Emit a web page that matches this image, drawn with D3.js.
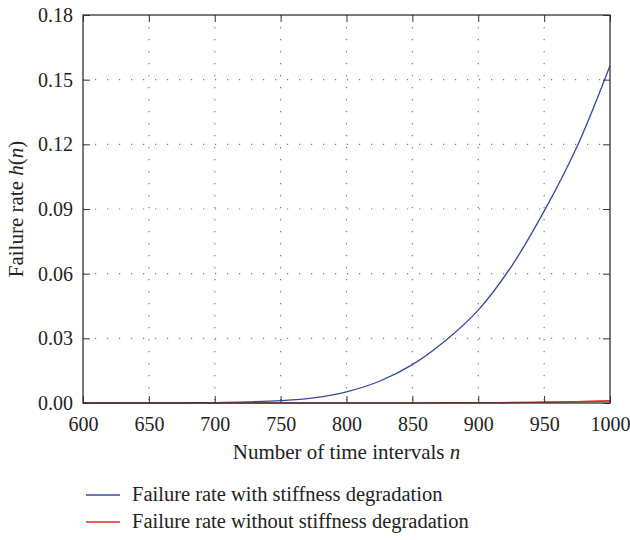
<!DOCTYPE html>
<meta charset="utf-8">
<head>
<style>
  body { margin: 0; background: #fff; }
  .grid line { stroke: #777; stroke-width: 1.2px; stroke-dasharray: 1.2, 10.8; }
  .axis path, .axis line { stroke: #333; }
</style>
</head>
<body>
<script src="https://d3js.org/d3.v7.min.js"></script>
<script>
// data
var nValues = [600, 625, 650, 675, 700, 725, 750, 775, 800, 825, 850, 875, 900, 925, 950, 975, 1000];
var withDegradation = [0, 0.00001, 0.00003, 0.0001, 0.0002, 0.0005, 0.0011, 0.0024, 0.0052, 0.0101, 0.0178, 0.0289, 0.0431, 0.0632, 0.0890, 0.1190, 0.1565];
var withoutDegradation = [0, 0, 0, 0, 0, 0, 0, 0, 0, 0, 0.00002, 0.00005, 0.0001, 0.0002, 0.0004, 0.0006, 0.001];
var xTicks = [600, 650, 700, 750, 800, 850, 900, 950, 1000];
var yTicks = [0, 0.03, 0.06, 0.09, 0.12, 0.15, 0.18];
var seriesNames = ["Failure rate with stiffness degradation", "Failure rate without stiffness degradation"];
var seriesColors = ["#3547a6", "#e5262a"];

var serif = "'Liberation Serif', 'DejaVu Serif', serif";

var margin = {top: 15, right: 20, bottom: 137, left: 83},
    width = 610 - margin.left,
    height = 403 - margin.top;

var svg = d3.select("body").append("svg")
    .attr("width", 630)
    .attr("height", 540)
    .style("font-family", serif);

var g = svg.append("g")
    .attr("transform", "translate(" + margin.left + "," + margin.top + ")");

var x = d3.scaleLinear().domain([600, 1000]).range([0, width]);
var y = d3.scaleLinear().domain([0, 0.18]).range([height, 0]);

// dotted grid
g.append("g").attr("class", "grid")
    .selectAll("line").data(xTicks.slice(1, -1)).enter().append("line")
    .attr("x1", function(d) { return x(d); })
    .attr("x2", function(d) { return x(d); })
    .attr("y1", 0).attr("y2", height);
g.append("g").attr("class", "grid")
    .selectAll("line").data(yTicks.slice(1, -1)).enter().append("line")
    .attr("y1", function(d) { return y(d); })
    .attr("y2", function(d) { return y(d); })
    .attr("x1", 0).attr("x2", width);

// lines
var series = [withDegradation, withoutDegradation];
var line = d3.line()
    .x(function(d, i) { return x(nValues[i]); })
    .y(function(d) { return y(d); })
    .curve(d3.curveCatmullRom);

g.selectAll(".series").data(series).enter().append("path")
    .attr("class", "series")
    .attr("fill", "none")
    .attr("stroke", function(d, i) { return seriesColors[i]; })
    .attr("stroke-width", function(d, i) { return i == 0 ? 1.3 : 1.6; })
    .attr("d", line);

// axes with inward ticks
function styleLabels(a) {
    a.attr("font-family", null).attr("font-size", null);
    a.selectAll("text").style("font-size", "20px").style("font-family", serif).attr("fill", "#222");
    a.select(".domain").remove();
}
g.append("g").attr("class", "axis")
    .attr("transform", "translate(0," + height + ")")
    .call(d3.axisBottom(x).tickValues(xTicks).tickFormat(d3.format("d")).tickSizeInner(-7).tickSizeOuter(0).tickPadding(14))
    .call(styleLabels);
g.append("g").attr("class", "axis")
    .call(d3.axisTop(x).tickValues(xTicks).tickSizeInner(-7).tickSizeOuter(0).tickFormat(""))
    .call(styleLabels);
g.append("g").attr("class", "axis")
    .call(d3.axisLeft(y).tickValues(yTicks).tickFormat(d3.format(".2f")).tickSizeInner(-7).tickSizeOuter(0).tickPadding(10))
    .call(styleLabels);
g.append("g").attr("class", "axis")
    .attr("transform", "translate(" + width + ",0)")
    .call(d3.axisRight(y).tickValues(yTicks).tickSizeInner(-7).tickSizeOuter(0).tickFormat(""))
    .call(styleLabels);

// frame
g.append("rect")
    .attr("width", width).attr("height", height)
    .attr("fill", "none").attr("stroke", "#333").attr("stroke-width", 1.3);

// axis titles
var xt = svg.append("text")
    .attr("x", margin.left + width / 2)
    .attr("y", 459)
    .attr("text-anchor", "middle")
    .attr("fill", "#222")
    .style("font-family", serif)
    .style("font-size", "21px");
xt.append("tspan").text("Number of time intervals ");
xt.append("tspan").style("font-style", "italic").text("n");

var yt = svg.append("text")
    .attr("transform", "translate(23," + (margin.top + height / 2) + ") rotate(-90)")
    .attr("text-anchor", "middle")
    .attr("fill", "#222")
    .style("font-family", serif)
    .style("font-size", "21px");
yt.append("tspan").text("Failure rate ");
yt.append("tspan").style("font-style", "italic").text("h");
yt.append("tspan").text("(");
yt.append("tspan").style("font-style", "italic").text("n");
yt.append("tspan").text(")");

// legend
var legend = svg.selectAll(".legend").data(seriesNames).enter().append("g")
    .attr("class", "legend")
    .attr("transform", function(d, i) { return "translate(86," + (495 + i * 27) + ")"; });
legend.append("line")
    .attr("x1", 0).attr("x2", 34)
    .attr("stroke", function(d, i) { return seriesColors[i]; })
    .attr("stroke-width", 1.3);
legend.append("text")
    .attr("x", 46).attr("y", 6)
    .attr("fill", "#222")
    .style("font-family", serif)
    .style("font-size", "20.5px")
    .text(function(d) { return d; });
</script>
</body>
